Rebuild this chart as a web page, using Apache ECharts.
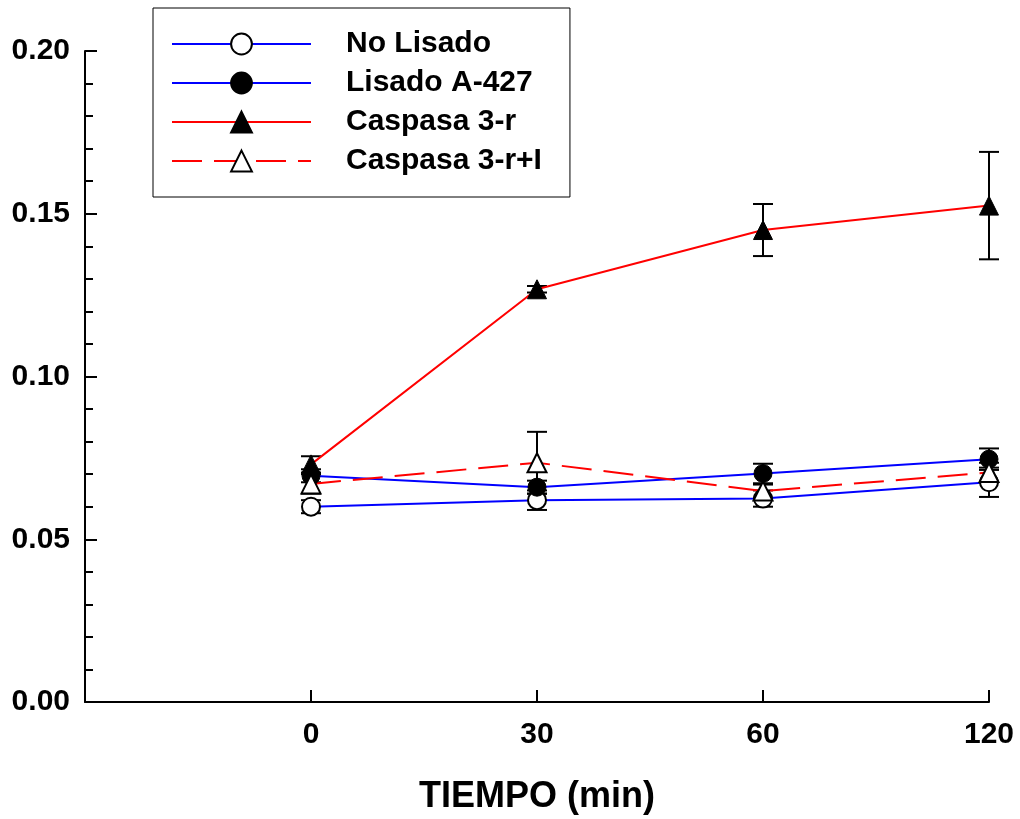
<!doctype html>
<html>
<head>
	<meta charset="UTF-8">
	<title>TIEMPO (min)</title>
	<script src="https://cdn.jsdelivr.net/npm/echarts@6/dist/echarts.min.js"></script>
	<style>
		html, body { margin: 0; padding: 0; background: #fff; }
		#chart { width: 1020px; height: 819px; }
	</style>
</head>
<body>
	<div id="chart"></div>
	<script type="text/javascript">
		// categorias del eje X (min)
		var tiempo = ['0', '30', '60', '120'];

		// medias
		var noLisado = [0.0600, 0.0620, 0.0625, 0.0675];
		var lisadoA427 = [0.0695, 0.0660, 0.0702, 0.0746];
		var caspasa3r = [0.0730, 0.1268, 0.1450, 0.1525];
		var caspasa3rI = [0.0670, 0.0735, 0.0648, 0.0705];

		// barras de error (+/-)
		var errNoLisado = [0.0020, 0.0030, 0.0025, 0.0045];
		var errLisado = [0.0020, 0.0020, 0.0030, 0.0033];
		var errCaspasa = [0.0025, 0.0010, 0.0080, 0.0165];
		var errCaspasaI = [0.0030, 0.0095, 0.0020, 0.0030];

		var font = 'Liberation Sans, Arial, Helvetica, sans-serif';

		function puntos(arr) {
			var out = [];
			for (var i = 0; i < arr.length; i++) {
				out.push([i, arr[i]]);
			}
			return out;
		}

		function errores(arr, err) {
			var out = [];
			for (var i = 0; i < arr.length; i++) {
				out.push([i, arr[i] - err[i], arr[i] + err[i]]);
			}
			return out;
		}

		function barraError(params, api) {
			var x = api.value(0);
			var lo = api.coord([x, api.value(1)]);
			var hi = api.coord([x, api.value(2)]);
			var half = 10;
			var style = { stroke: '#000', lineWidth: 2 };
			return {
				type: 'group',
				children: [
					{ type: 'line', shape: { x1: lo[0], y1: lo[1], x2: hi[0], y2: hi[1] }, style: style },
					{ type: 'line', shape: { x1: lo[0] - half, y1: lo[1], x2: lo[0] + half, y2: lo[1] }, style: style },
					{ type: 'line', shape: { x1: hi[0] - half, y1: hi[1], x2: hi[0] + half, y2: hi[1] }, style: style }
				]
			};
		}

		function serieError(arr, err) {
			return {
				type: 'custom',
				renderItem: barraError,
				data: errores(arr, err),
				z: 1,
				silent: true
			};
		}

		var option = {
			animation: false,
			backgroundColor: '#fff',
			grid: {
				left: 85,
				right: 31,
				top: 51,
				bottom: 117,
				outerBoundsMode: 'none'
			},
			legend: {
				orient: 'vertical',
				left: 153,
				top: 8,
				itemWidth: 139,
				itemHeight: 26,
				itemGap: 9,
				padding: [21, 28, 21, 18],
				borderColor: '#000',
				borderWidth: 1,
				textStyle: {
					fontFamily: font,
					fontWeight: 'bold',
					fontSize: 30,
					color: '#000',
					padding: [0, 0, 0, 30]
				},
				data: ['No Lisado', 'Lisado A-427', 'Caspasa 3-r', 'Caspasa 3-r+I']
			},
			xAxis: {
				type: 'value',
				min: -1,
				max: 3,
				interval: 1,
				name: 'TIEMPO (min)',
				nameLocation: 'middle',
				nameGap: 77,
				nameTextStyle: {
					fontFamily: font,
					fontWeight: 'bold',
					fontSize: 36,
					color: '#000'
				},
				axisLine: { lineStyle: { color: '#000', width: 2 } },
				axisTick: { inside: true, length: 12, lineStyle: { color: '#000', width: 2 } },
				axisLabel: {
					margin: 18,
					fontFamily: font,
					fontWeight: 'bold',
					fontSize: 30,
					color: '#000',
					formatter: function(v) {
						return v >= 0 ? tiempo[v] : '';
					}
				},
				splitLine: { show: false }
			},
			yAxis: {
				type: 'value',
				min: 0,
				max: 0.20,
				interval: 0.05,
				axisLine: { show: true, onZero: false, lineStyle: { color: '#000', width: 2 } },
				axisTick: { show: true, inside: true, length: 12, lineStyle: { color: '#000', width: 2 } },
				minorTick: { show: true, splitNumber: 5, length: 8, lineStyle: { color: '#000', width: 2 } },
				axisLabel: {
					margin: 15,
					fontFamily: font,
					fontWeight: 'bold',
					fontSize: 30,
					color: '#000',
					formatter: function(v) {
						return v.toFixed(2);
					}
				},
				splitLine: { show: false }
			},
			series: [
				serieError(noLisado, errNoLisado),
				serieError(lisadoA427, errLisado),
				serieError(caspasa3r, errCaspasa),
				serieError(caspasa3rI, errCaspasaI),
				{
					name: 'No Lisado',
					type: 'line',
					data: puntos(noLisado),
					symbol: 'circle',
					symbolSize: 18,
					lineStyle: { color: '#0000ff', width: 2 },
					itemStyle: { color: '#fff', borderColor: '#000', borderWidth: 2 },
					z: 3
				},
				{
					name: 'Lisado A-427',
					type: 'line',
					data: puntos(lisadoA427),
					symbol: 'circle',
					symbolSize: 18,
					lineStyle: { color: '#0000ff', width: 2 },
					itemStyle: { color: '#000', borderColor: '#000', borderWidth: 1 },
					z: 3
				},
				{
					name: 'Caspasa 3-r',
					type: 'line',
					data: puntos(caspasa3r),
					symbol: 'triangle',
					symbolSize: 19,
					lineStyle: { color: '#ff0000', width: 2 },
					itemStyle: { color: '#000', borderColor: '#000', borderWidth: 1 },
					z: 3
				},
				{
					name: 'Caspasa 3-r+I',
					type: 'line',
					data: puntos(caspasa3rI),
					symbol: 'triangle',
					symbolSize: 19,
					lineStyle: { color: '#ff0000', width: 2, type: [30, 12] },
					itemStyle: { color: '#fff', borderColor: '#000', borderWidth: 2 },
					z: 3
				}
			]
		};

		var chart = echarts.init(document.getElementById('chart'));
		chart.setOption(option);
	</script>
</body>
</html>
